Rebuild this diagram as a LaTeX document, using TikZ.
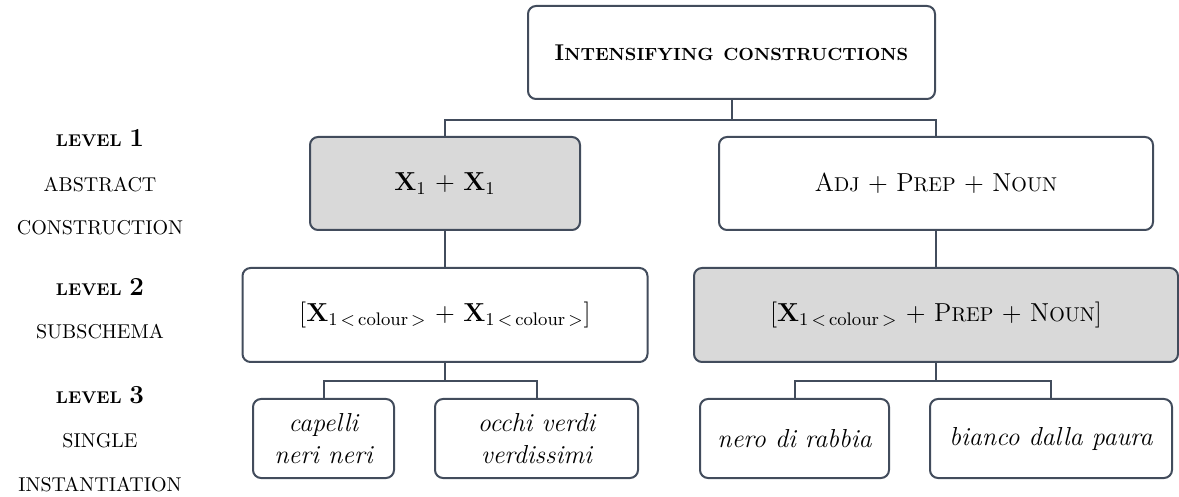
\documentclass[tikz,border=0pt]{standalone}
\usepackage{fontspec}
\definecolor{edge}{RGB}{66,76,92}
\definecolor{shade}{RGB}{217,217,217}
\newcommand{\topsc}[2]{{\fontsize{11.4}{14}\selectfont #1}{\fontsize{8.8}{11}\selectfont #2}}
\newcommand{\midsc}[2]{{\fontsize{13}{15}\selectfont #1}{\fontsize{10}{12}\selectfont #2}}
\newcommand{\colsub}{$_{1\,<\,\mathrm{colour}\,>}$}
\tikzset{
  box/.style={draw=edge, line width=1pt, rounded corners=4pt, fill=white, align=center, inner sep=0pt, font=\fontsize{13}{15}\selectfont},
  gbox/.style={box, fill=shade},
  leaf/.style={box, font=\fontsize{13}{16}\selectfont\itshape, minimum height=39.5pt},
  conn/.style={draw=edge, line width=1pt},
  lvl/.style={align=center, inner sep=0pt, font=\fontsize{10}{12}\selectfont},
}
\newcommand{\lvlhead}[1]{\textbf{{\fontsize{8.5}{10}\selectfont LEVEL} {\fontsize{13}{14}\selectfont #1}}}
\begin{document}
\begin{tikzpicture}[x=0.5pt,y=-0.5pt]
\useasboundingbox (0,0) rectangle (1179,497);
% boxes
\node[box, minimum width=203.5pt, minimum height=46.5pt] (top) at (731.5,52.5) {\textbf{\topsc{I}{NTENSIFYING} \topsc{}{CONSTRUCTIONS}}};
\node[gbox, minimum width=135pt, minimum height=46.5pt] (l1a) at (445,183.5) {\textbf{X}$_1$ + \textbf{X}$_1$};
\node[box, minimum width=217pt, minimum height=46.5pt] (l1b) at (936,183.5) {\midsc{A}{DJ} + \midsc{P}{REP} + \midsc{N}{OUN}};
\node[box, minimum width=202.5pt, minimum height=47pt] (l2a) at (445,315) {[\textbf{X}\colsub{} + \textbf{X}\colsub]};
\node[gbox, minimum width=242pt, minimum height=47pt] (l2b) at (936,315) {[\textbf{X}\colsub{} + \midsc{P}{REP} + \midsc{N}{OUN}]};
\node[leaf, minimum width=70.5pt] (l3a) at (323.5,438.5) {capelli\\neri neri};
\node[leaf, minimum width=101.5pt] (l3b) at (536.5,438.5) {occhi verdi\\verdissimi};
\node[leaf, minimum width=94.5pt] (l3c) at (794.5,438.5) {nero di rabbia};
\node[leaf, minimum width=121pt] (l3d) at (1051,438.5) {bianco dalla paura};
% junctions
\coordinate (j0) at (731.5,120);
\coordinate (j1) at (445,381);
\coordinate (j2) at (936,381);
\draw[conn] (top.south) -- (j0);
\draw[conn] (l1a.north) |- (j0) -| (l1b.north);
\draw[conn] (l1a.south) -- (l2a.north);
\draw[conn] (l1b.south) -- (l2b.north);
\draw[conn] (l2a.south) -- (j1);
\draw[conn] (l3a.north) |- (j1) -| (l3b.north);
\draw[conn] (l2b.south) -- (j2);
\draw[conn] (l3c.north) |- (j2) -| (l3d.north);
% level labels
\node[lvl] (lv1) at (100,138) {\lvlhead{1}};
\node[lvl] (ab) at (100,185) {ABSTRACT};
\node[lvl] (co) at (100,228) {CONSTRUCTION};
\node[lvl] (lv2) at (100,287) {\lvlhead{2}};
\node[lvl] (sub) at (100,332) {SUBSCHEMA};
\node[lvl] (lv3) at (100,395) {\lvlhead{3}};
\node[lvl] (si) at (100,441) {SINGLE};
\node[lvl] (inst) at (100,485) {INSTANTIATION};
\end{tikzpicture}
\end{document}
